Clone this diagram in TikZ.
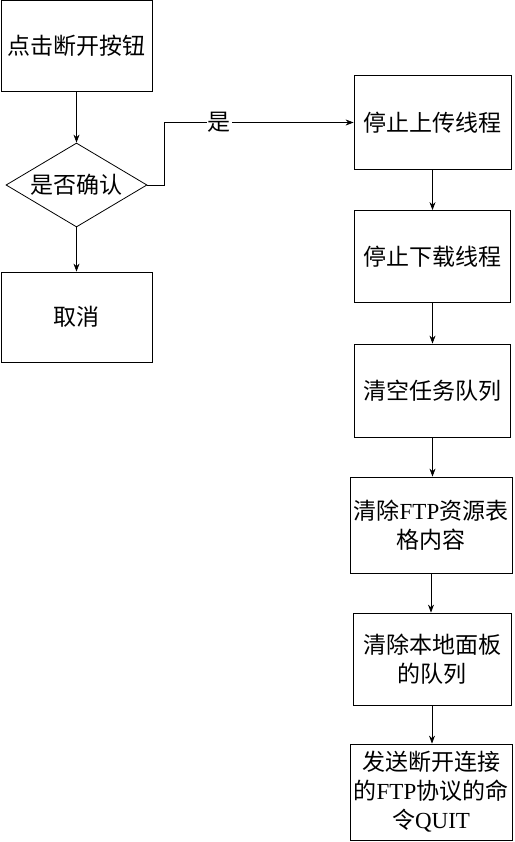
\documentclass[tikz,border=0pt]{standalone}
\usepackage{fontspec}
\setmainfont{Liberation Serif}
\newfontfamily\cjk{Noto Sans CJK SC}
\usetikzlibrary{shapes.geometric,arrows.meta}
\tikzset{
  box/.style={draw, line width=0.8pt, rectangle, inner sep=0pt, align=center,
    font=\fontsize{23}{29}\selectfont\cjk},
  dec/.style={draw, line width=0.8pt, diamond, inner sep=0pt, aspect=1.68,
    minimum width=141pt, minimum height=84pt, font=\fontsize{23}{29}\selectfont\cjk},
  arr/.style={line width=0.8pt, -{Stealth[length=8pt,width=6pt]}}
}
\newcommand{\lt}[1]{{\fontsize{23}{29}\selectfont\rmfamily #1}}
\begin{document}
\begin{tikzpicture}[x=1pt,y=-1pt]
\useasboundingbox (0,0) rectangle (514,842);
\node[box, minimum width=151pt, minimum height=91pt] (b1) at (76.5,45.5) {点击断开按钮};
\node[dec] (dia) at (76.5,185) {是否确认};
\node[box, minimum width=151pt, minimum height=90pt] (cancel) at (76.5,317) {取消};
\node[box, minimum width=157pt, minimum height=94pt] (r1) at (432.5,122.5) {停止上传线程};
\node[box, minimum width=156pt, minimum height=92pt] (r2) at (432.5,256.5) {停止下载线程};
\node[box, minimum width=156pt, minimum height=93pt] (r3) at (432.5,390.5) {清空任务队列};
\node[box, minimum width=162pt, minimum height=96pt] (r4) at (431,525) {清除\lt{FTP}资源表\\格内容};
\node[box, minimum width=158pt, minimum height=92pt] (r5) at (432,659) {清除本地面板\\的队列};
\node[box, minimum width=162pt, minimum height=96pt] (r6) at (431,792) {发送断开连接\\的\lt{FTP}协议的命\\令\lt{QUIT}};
\draw[arr] (b1) -- (dia);
\draw[arr] (dia) -- (cancel);
\draw[arr] (dia.east) -- ++(17,0) |- (r1.west)
  node[pos=0.645, fill=white, inner sep=1pt, font=\fontsize{23}{29}\selectfont\cjk] {是};
\draw[arr] (r1.south) -- (r1.south |- r2.north);
\draw[arr] (r2.south) -- (r2.south |- r3.north);
\draw[arr] (r3.south) -- (r3.south |- r4.north);
\draw[arr] (r4.south) -- (r4.south |- r5.north);
\draw[arr] (r5.south) -- (r5.south |- r6.north);
\end{tikzpicture}
\end{document}
